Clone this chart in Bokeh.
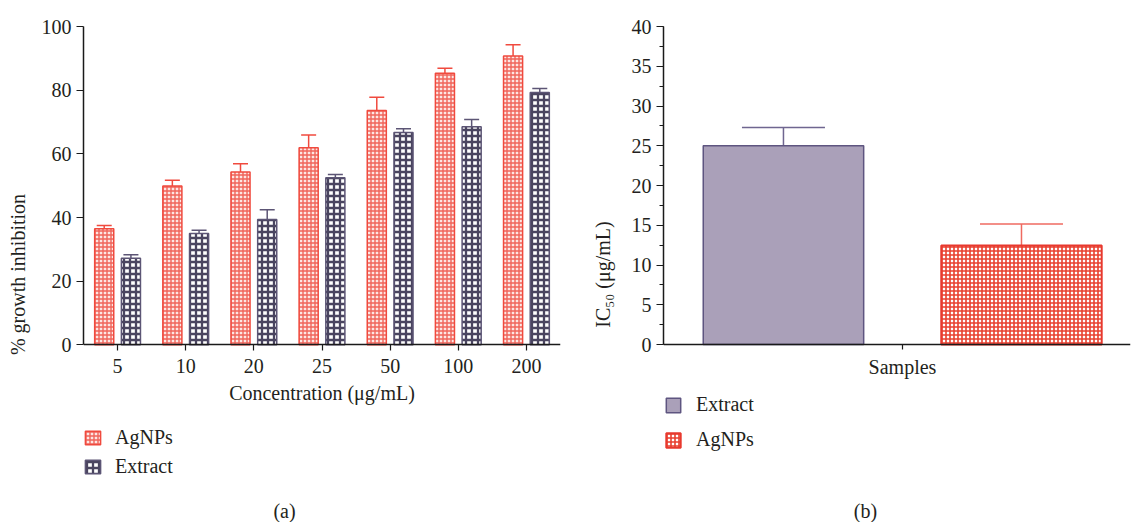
from bokeh.plotting import figure
from bokeh.layouts import row
from bokeh.models import (ColumnDataSource, FactorRange, Range1d, Whisker, TeeHead,
                          Legend, LegendItem, Label, FixedTicker, SingleIntervalTicker)
from bokeh.transform import dodge
from bokeh.embed import file_html
from bokeh.resources import INLINE

# ---------------- data ----------------
concentrations = ["5", "10", "20", "25", "50", "100", "200"]
agnps_inhibition = [36.5, 49.9, 54.3, 61.9, 73.6, 85.3, 90.7]
agnps_inhibition_err = [1.0, 1.8, 2.6, 4.0, 4.2, 1.6, 3.6]
extract_inhibition = [27.2, 35.0, 39.4, 52.5, 66.7, 68.5, 79.3]
extract_inhibition_err = [1.1, 1.0, 3.0, 1.0, 1.2, 2.3, 1.2]

ic50_samples = ["Extract", "AgNPs"]
ic50_values = [25.0, 12.45]
ic50_err = [2.3, 2.7]

FONT = "Liberation Serif"
TXT = "#231f20"
FS = "20px"


def style_axes(p):
    for ax in (p.xaxis[0], p.yaxis[0]):
        ax.axis_line_color = "#1a1a1a"
        ax.axis_line_width = 1.5
        ax.major_tick_line_color = "#1a1a1a"
        ax.major_tick_line_width = 1.2
        ax.minor_tick_line_color = "#1a1a1a"
        ax.major_tick_in = 0
        ax.minor_tick_in = 0
        ax.major_label_text_font = FONT
        ax.major_label_text_font_size = FS
        ax.major_label_text_color = TXT
        ax.axis_label_text_font = FONT
        ax.axis_label_text_font_size = FS
        ax.axis_label_text_font_style = "normal"
        ax.axis_label_text_color = TXT
    p.grid.visible = False
    p.outline_line_color = None
    p.background_fill_color = "white"
    p.border_fill_color = "white"


H = 522
# ---------------- left chart ----------------
src = ColumnDataSource(dict(
    cat=concentrations,
    ag=agnps_inhibition,
    ag_hi=[v + e for v, e in zip(agnps_inhibition, agnps_inhibition_err)],
    ex=extract_inhibition,
    ex_hi=[v + e for v, e in zip(extract_inhibition, extract_inhibition_err)],
))

# frame: top at 25px (y=100), y=0 at 344px, extends to the bottom of the canvas
y1_bottom = 100 - (H - 25) / 3.19
p1 = figure(width=583, height=H, x_range=FactorRange(factors=concentrations, range_padding=0),
            y_range=Range1d(y1_bottom, 100), output_backend="svg", toolbar_location=None,
            min_border_left=83, min_border_right=23, min_border_top=25, min_border_bottom=0)
style_axes(p1)
OFF = 0.196
W = 0.28
r_ag = p1.vbar(x=dodge("cat", -OFF, range=p1.x_range), top="ag", bottom=0, width=W, source=src,
               fill_color="#fde6e3", line_color="#f04a3e", line_width=1.5,
               hatch_pattern="cross", hatch_color="#f0645a", hatch_scale=4, hatch_weight=1.4)
r_ex = p1.vbar(x=dodge("cat", OFF, range=p1.x_range), top="ex", bottom=0, width=W, source=src,
               fill_color="white", line_color="#5c5575", line_width=1.5,
               hatch_pattern="cross", hatch_color="#4a4560", hatch_scale=6, hatch_weight=2.3)
p1.add_layout(Whisker(source=src, base=dodge("cat", -OFF, range=p1.x_range), lower="ag", upper="ag_hi",
                      lower_head=None, upper_head=TeeHead(size=15, line_color="#f04a3e", line_width=1.5),
                      line_color="#f04a3e", line_width=1.5))
p1.add_layout(Whisker(source=src, base=dodge("cat", OFF, range=p1.x_range), lower="ex", upper="ex_hi",
                      lower_head=None, upper_head=TeeHead(size=15, line_color="#5c5575", line_width=1.5),
                      line_color="#5c5575", line_width=1.5))
p1.yaxis.ticker = FixedTicker(ticks=[0, 20, 40, 60, 80, 100])
p1.yaxis.bounds = (0, 100)
p1.yaxis.major_tick_out = 7
p1.yaxis.axis_label = "% growth inhibition"
p1.yaxis.axis_label_standoff = 10
p1.xaxis.fixed_location = 0
p1.xaxis.major_tick_out = 6
p1.xaxis.axis_label = "Concentration (μg/mL)"
p1.xaxis.axis_label_standoff = 6
p1.xaxis.major_label_standoff = 8

leg1 = Legend(items=[LegendItem(label="AgNPs", renderers=[r_ag]),
                     LegendItem(label="Extract", renderers=[r_ex])],
              location=(0, 44), orientation="vertical",
              glyph_width=19, glyph_height=17, spacing=6, padding=0, margin=0,
              label_text_font=FONT, label_text_font_size=FS, label_text_color=TXT,
              label_standoff=13, border_line_color=None, background_fill_alpha=0)
p1.add_layout(leg1, "center")
p1.add_layout(Label(x=284 - 83, y=12, x_units="screen", y_units="screen", text="(a)",
                    text_font=FONT, text_font_size=FS, text_color=TXT,
                    text_align="center", text_baseline="middle"))

# ---------------- right chart ----------------
y2_bottom = 40 - (H - 26) / 7.95
p2 = figure(width=548, height=H, x_range=Range1d(-1.004, 0.958), y_range=Range1d(y2_bottom, 40),
            output_backend="svg", toolbar_location=None,
            min_border_left=80, min_border_right=1, min_border_top=26, min_border_bottom=0)
style_axes(p2)
r2_ex = p2.vbar(x=[-0.5], top=[ic50_values[0]], bottom=0, width=0.674, fill_color="#aaa0b9",
                line_color="#5e5580", line_width=1.5)
r2_ag = p2.vbar(x=[0.5], top=[ic50_values[1]], bottom=0, width=0.674, fill_color="white",
                line_color="#e8392e", line_width=2,
                hatch_pattern="cross", hatch_color="#e8402f", hatch_scale=4, hatch_weight=1.6)
src2a = ColumnDataSource(dict(x=[-0.5], lo=[ic50_values[0]], hi=[ic50_values[0] + ic50_err[0]]))
src2b = ColumnDataSource(dict(x=[0.5], lo=[ic50_values[1]], hi=[ic50_values[1] + ic50_err[1]]))
p2.add_layout(Whisker(source=src2a, base="x", lower="lo", upper="hi", lower_head=None,
                      upper_head=TeeHead(size=83, line_color="#6f6690", line_width=1.5),
                      line_color="#6f6690", line_width=1.5))
p2.add_layout(Whisker(source=src2b, base="x", lower="lo", upper="hi", lower_head=None,
                      upper_head=TeeHead(size=83, line_color="#ef6a60", line_width=1.5),
                      line_color="#ef6a60", line_width=1.5))
p2.yaxis.ticker = SingleIntervalTicker(interval=5, num_minor_ticks=2)
p2.yaxis.bounds = (0, 40)
p2.yaxis.major_tick_out = 7
p2.yaxis.minor_tick_out = 4
p2.yaxis.axis_label = "IC₅₀ (μg/mL)"
p2.yaxis.axis_label_standoff = 15
p2.xaxis.fixed_location = 0
p2.xaxis.ticker = FixedTicker(ticks=[0])
p2.xaxis.major_label_overrides = {0: "Samples"}
p2.xaxis.major_tick_out = 5
p2.xaxis.major_label_standoff = 6

leg2 = Legend(items=[LegendItem(label="Extract", renderers=[r2_ex]),
                     LegendItem(label="AgNPs", renderers=[r2_ag])],
              location=(1, 71), orientation="vertical",
              glyph_width=18, glyph_height=18, spacing=12, padding=0, margin=0,
              label_text_font=FONT, label_text_font_size=FS, label_text_color=TXT,
              label_standoff=14, border_line_color=None, background_fill_alpha=0)
p2.add_layout(leg2, "center")
p2.add_layout(Label(x=865 - 663, y=12, x_units="screen", y_units="screen", text="(b)",
                    text_font=FONT, text_font_size=FS, text_color=TXT,
                    text_align="center", text_baseline="middle"))

layout = row(p1, p2, spacing=0)
open("out.html", "w").write(file_html(layout, INLINE))
